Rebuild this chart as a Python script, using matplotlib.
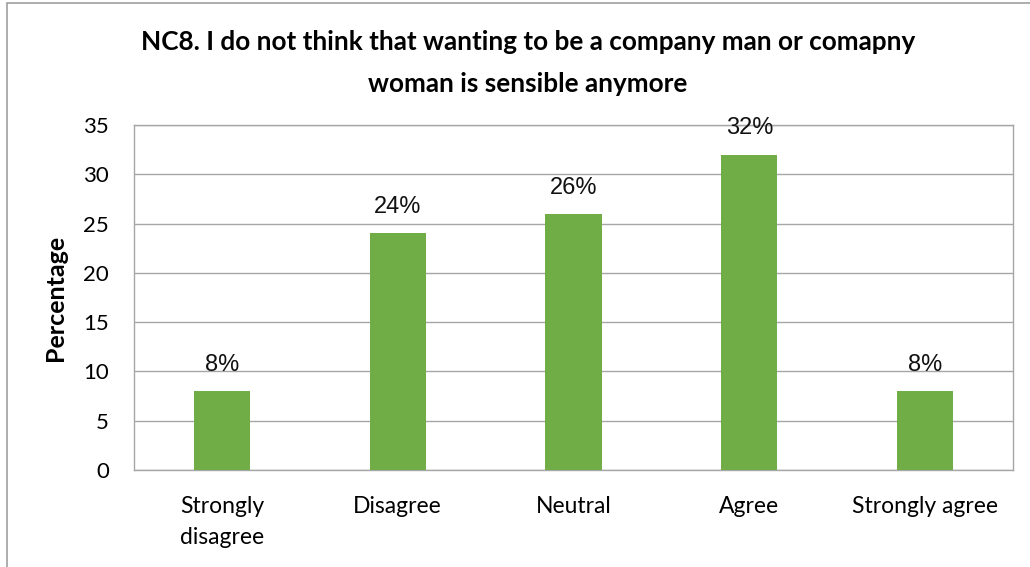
import matplotlib.pyplot as plt
from matplotlib.patches import Rectangle

categories = ["Strongly\ndisagree", "Disagree", "Neutral", "Agree", "Strongly agree"]
percentages = [8, 24, 26, 32, 8]
yticks = [0, 5, 10, 15, 20, 25, 30, 35]

green = "#70AD47"
grid_gray = "#A6A6A6"

fig = plt.figure(figsize=(10.30, 5.67), dpi=100)
ax = fig.add_axes([134 / 1030, 1 - 470 / 567, 879 / 1030, 345 / 567])

x = range(len(categories))
ax.bar(x, percentages, width=0.32, color=green, zorder=3)

# value labels above each bar
for xi, v in zip(x, percentages):
    ax.annotate(f"{v}%", (xi, v), xytext=(0, 14.5), textcoords="offset points",
                ha="center", va="baseline", fontsize=17,
                family="Liberation Sans", color="#111111", zorder=4)

ax.set_xlim(-0.5, len(categories) - 0.5)
ax.set_ylim(0, 35)
ax.set_yticks(yticks)
ax.set_xticks(list(x))
ax.set_xticklabels(categories, fontsize=16.5, family="Lato", linespacing=1.55)
ax.tick_params(axis="y", labelsize=16, length=0, pad=18)
ax.tick_params(axis="x", length=0, pad=19)
for lbl in ax.get_yticklabels():
    lbl.set_family("Lato")

ax.yaxis.grid(True, color=grid_gray, linewidth=1, zorder=0)
for s in ax.spines.values():
    s.set_color(grid_gray)
    s.set_linewidth(1)

ax.set_ylabel("Percentage", fontsize=18, fontweight="bold", family="Lato", labelpad=12)

fig.text(528 / 1030, 1 - 63 / 567,
         "NC8. I do not think that wanting to be a company man or comapny\nwoman is sensible anymore",
         ha="center", va="center", fontsize=18.8, fontweight="bold", family="Lato",
         linespacing=1.85)

# outer chart border
fig.patches.append(Rectangle((7 / 1030, -0.01), 1.1, 1 - 3 / 567 + 0.01,
                             transform=fig.transFigure, fill=False,
                             edgecolor="#A0A0A0", linewidth=1.2))

fig.savefig("out.png", dpi=100)
